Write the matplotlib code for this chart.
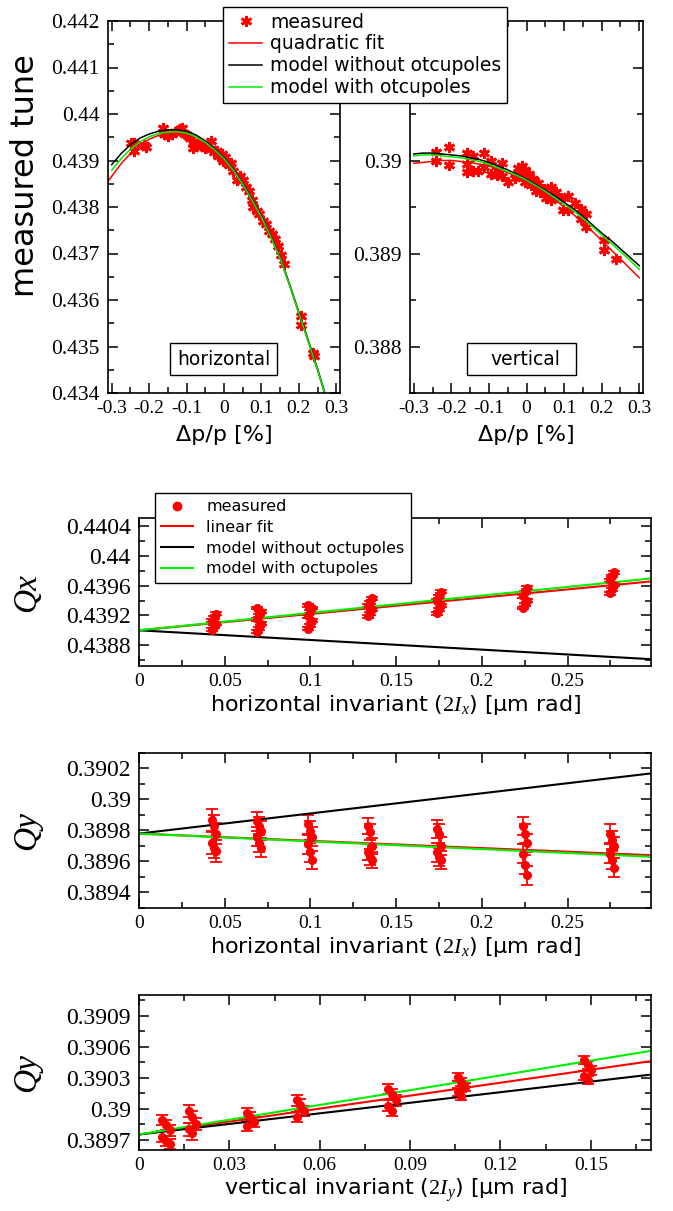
import matplotlib
matplotlib.use('Agg')
import matplotlib.pyplot as plt
from matplotlib.ticker import MultipleLocator, FormatStrFormatter, FuncFormatter
from matplotlib.patches import Rectangle
from matplotlib.lines import Line2D

plt.rcParams['font.family'] = 'Liberation Serif'
plt.rcParams['axes.unicode_minus'] = False
plt.rcParams['mathtext.fontset'] = 'custom'
plt.rcParams['mathtext.it'] = 'Liberation Serif:italic'
plt.rcParams['mathtext.rm'] = 'Liberation Serif'

# ---- top: tune vs momentum offset ----
hor_dp = [-0.248, -0.241, -0.241, -0.213, -0.209, -0.163, -0.160, -0.157, -0.150, -0.139,
          -0.132, -0.117, -0.112, -0.104, -0.099, -0.090, -0.082, -0.082, -0.076, -0.068,
          -0.059, -0.052, -0.044, -0.035, -0.035, -0.028, -0.019, -0.015, -0.006, -0.002,
          0.003, 0.009, 0.014, 0.019, 0.025, 0.034, 0.043, 0.050, 0.060, 0.066,
          0.074, 0.078, 0.087, 0.094, 0.104, 0.112, 0.121, 0.129, 0.137, 0.143,
          0.152, 0.160, 0.205, 0.207, 0.237, 0.240]
hor_q = [0.43937, 0.43938, 0.43920, 0.43933, 0.43929, 0.43970, 0.43958, 0.43956, 0.43953, 0.43957,
         0.43962, 0.43967, 0.43969, 0.43958, 0.43955, 0.43948, 0.43938, 0.43926, 0.43932, 0.43940,
         0.43931, 0.43926, 0.43935, 0.43941, 0.43925, 0.43919, 0.43920, 0.43909, 0.43914, 0.43899,
         0.43908, 0.43896, 0.43891, 0.43895, 0.43877, 0.43859, 0.43866, 0.43857, 0.43842, 0.43835,
         0.43816, 0.43799, 0.43792, 0.43784, 0.43770, 0.43763, 0.43749, 0.43742, 0.43731, 0.43716,
         0.43697, 0.43677, 0.43565, 0.43547, 0.43487, 0.43480]

ver_dp = [-0.240, -0.240, -0.207, -0.207, -0.159, -0.159, -0.159, -0.143, -0.143, -0.128,
          -0.112, -0.112, -0.094, -0.094, -0.079, -0.079, -0.064, -0.064, -0.049, -0.031,
          -0.022, -0.020, -0.013, -0.010, -0.005, -0.004, 0.000, 0.006, 0.011, 0.017,
          0.024, 0.031, 0.036, 0.047, 0.052, 0.064, 0.064, 0.079, 0.093, 0.097,
          0.110, 0.110, 0.128, 0.144, 0.144, 0.159, 0.159, 0.205, 0.205, 0.238]
ver_q = [0.39009, 0.38999, 0.39015, 0.38995, 0.39008, 0.38996, 0.38988, 0.39005, 0.38989, 0.38989,
         0.39008, 0.38993, 0.38999, 0.38986, 0.38990, 0.38984, 0.38997, 0.38983, 0.38977, 0.38981,
         0.38992, 0.38985, 0.38994, 0.38988, 0.38990, 0.38977, 0.38982, 0.38985, 0.38974, 0.38980,
         0.38967, 0.38976, 0.38966, 0.38969, 0.38960, 0.38971, 0.38957, 0.38966, 0.38960, 0.38947,
         0.38962, 0.38947, 0.38954, 0.38948, 0.38937, 0.38942, 0.38929, 0.38915, 0.38904, 0.38894]

# curves read every 0.025 in dp/p
curve_dp = [-0.3, -0.275, -0.25, -0.225, -0.2, -0.175, -0.15, -0.125, -0.1, -0.075, -0.05,
            -0.025, 0.0, 0.025, 0.05, 0.075, 0.1, 0.125, 0.15, 0.175, 0.2, 0.225, 0.25,
            0.275, 0.3]
fit_dp = [-0.325] + curve_dp
hor_fit = [0.43840, 0.43866, 0.43893, 0.43915, 0.43933, 0.43946, 0.43954, 0.43958, 0.43959,
           0.43957, 0.43950, 0.43938, 0.43922, 0.43903, 0.43878, 0.43848, 0.43814, 0.43777,
           0.43735, 0.43689, 0.43632, 0.43571, 0.43511, 0.43449, 0.43383, 0.43314]
hor_noocto = [0.43891, 0.43915, 0.43934, 0.43948, 0.43957, 0.43963, 0.43966, 0.43966, 0.43963,
              0.43955, 0.43942, 0.43925, 0.43906, 0.43881, 0.43851, 0.43817, 0.43780, 0.43738,
              0.43692, 0.43635, 0.43574, 0.43514, 0.43452, 0.43386, 0.43317]
hor_octo = [0.43879, 0.43904, 0.43924, 0.43940, 0.43951, 0.43958, 0.43961, 0.43962, 0.43959,
            0.43951, 0.43939, 0.43923, 0.43904, 0.43879, 0.43849, 0.43815, 0.43778, 0.43736,
            0.43690, 0.43633, 0.43572, 0.43512, 0.43450, 0.43384, 0.43315]
ver_fit = [0.38997, 0.38998, 0.38999, 0.39000, 0.39000, 0.38999, 0.38998, 0.38996, 0.38994,
           0.38991, 0.38987, 0.38982, 0.38977, 0.38971, 0.38965, 0.38958, 0.38950, 0.38942,
           0.38933, 0.38924, 0.38914, 0.38904, 0.38894, 0.38884, 0.38874]
ver_noocto = [0.39007, 0.39008, 0.39008, 0.39007, 0.39006, 0.39005, 0.39003, 0.39001, 0.38998,
              0.38994, 0.38990, 0.38985, 0.38980, 0.38974, 0.38968, 0.38962, 0.38955, 0.38948,
              0.38940, 0.38931, 0.38922, 0.38914, 0.38905, 0.38896, 0.38887]
ver_octo = [0.39005, 0.39006, 0.39006, 0.39005, 0.39004, 0.39003, 0.39001, 0.38999, 0.38996,
            0.38992, 0.38988, 0.38984, 0.38979, 0.38973, 0.38967, 0.38960, 0.38953, 0.38946,
            0.38938, 0.38929, 0.38920, 0.38911, 0.38902, 0.38893, 0.38883]

# ---- amplitude detuning ----
jx_pos = [0.044, 0.070, 0.100, 0.135, 0.175, 0.225, 0.276]
qx_meas = [[0.43901, 0.43905, 0.43909, 0.43913, 0.43917, 0.43922],
           [0.43898, 0.43903, 0.43909, 0.43915, 0.43920, 0.43925, 0.43930],
           [0.43902, 0.43907, 0.43913, 0.43919, 0.43925, 0.43930, 0.43934],
           [0.43919, 0.43923, 0.43928, 0.43933, 0.43938, 0.43943],
           [0.43923, 0.43928, 0.43934, 0.43940, 0.43946, 0.43952],
           [0.43930, 0.43935, 0.43940, 0.43946, 0.43951, 0.43957],
           [0.43950, 0.43955, 0.43961, 0.43967, 0.43973, 0.43978]]
qx_err = [0.00002, 0.00002, 0.00002, 0.00002, 0.00002, 0.00002, 0.00002]
qx_line_x = [0.0, 0.3]
qx_fit = [0.43900, 0.43966]
qx_noocto = [0.43900, 0.43861]
qx_octo = [0.43900, 0.43970]

qyx_meas = [[0.38987, 0.38983, 0.38978, 0.38972, 0.38969, 0.38967],
            [0.38986, 0.38983, 0.38980, 0.38976, 0.38972, 0.38969],
            [0.38984, 0.38980, 0.38976, 0.38971, 0.38966, 0.38961],
            [0.38983, 0.38979, 0.38970, 0.38966, 0.38963, 0.38961],
            [0.38981, 0.38978, 0.38970, 0.38966, 0.38963, 0.38961],
            [0.38983, 0.38978, 0.38972, 0.38965, 0.38958, 0.38951],
            [0.38978, 0.38974, 0.38970, 0.38965, 0.38961, 0.38956]]
qyx_err = [0.00007, 0.00006, 0.00006, 0.00005, 0.00006, 0.00006, 0.00006]
qyx_fit = [0.38978, 0.38964]
qyx_noocto = [0.38978, 0.39017]
qyx_octo = [0.38978, 0.38963]

jy_pos = [0.009, 0.0177, 0.037, 0.0535, 0.084, 0.107, 0.149]
qyy_meas = [[0.38989, 0.38984, 0.38979, 0.38973, 0.38969, 0.38966],
            [0.38998, 0.38992, 0.38985, 0.38980, 0.38976],
            [0.38996, 0.38992, 0.38987, 0.38983],
            [0.39008, 0.39004, 0.38998, 0.38992],
            [0.39019, 0.39014, 0.39008, 0.39003, 0.38998],
            [0.39031, 0.39026, 0.39021, 0.39016, 0.39012],
            [0.39047, 0.39042, 0.39037, 0.39032, 0.39028]]
qyy_err = [0.00005, 0.00006, 0.00005, 0.00005, 0.00005, 0.00004, 0.00004]
qyy_line_x = [0.0, 0.17]
qyy_fit = [0.38975, 0.39046]
qyy_noocto = [0.38975, 0.39033]
qyy_octo = [0.38975, 0.39056]

W, H = 673, 1211
RED = '#ff0000'
GREEN = '#00ee00'


def rect(left, top, right, bottom):
    return [left / W, 1 - bottom / H, (right - left) / W, (bottom - top) / H]


def style_axes(ax, xmaj, xmin, ymaj, ymin, xsize, ysize):
    ax.xaxis.set_major_locator(MultipleLocator(xmaj))
    ax.xaxis.set_minor_locator(MultipleLocator(xmin))
    ax.yaxis.set_major_locator(MultipleLocator(ymaj))
    ax.yaxis.set_minor_locator(MultipleLocator(ymin))
    ax.xaxis.set_major_formatter(FormatStrFormatter('%g'))
    ax.yaxis.set_major_formatter(FormatStrFormatter('%g'))
    ax.tick_params(which='both', direction='in', top=True, right=True, width=1.1)
    ax.tick_params(which='major', length=7)
    ax.tick_params(which='minor', length=4)
    ax.tick_params(axis='x', labelsize=xsize, pad=5)
    ax.tick_params(axis='y', labelsize=ysize, pad=6)
    for s in ax.spines.values():
        s.set_linewidth(1.2)


fig = plt.figure(figsize=(W / 100, H / 100), dpi=100)
sans = 'DejaVu Sans'
star = (6, 2, 0)

# horizontal chromaticity
ax1 = fig.add_axes(rect(108, 21, 340, 393))
m1, = ax1.plot(hor_dp, hor_q, ls='none', marker=star, ms=8, mew=2, color=RED)
l1, = ax1.plot(fit_dp, hor_fit, color=RED, lw=1.1)
l2, = ax1.plot(curve_dp, hor_noocto, color='black', lw=1.1)
l3, = ax1.plot(curve_dp, hor_octo, color=GREEN, lw=1.1)
ax1.set_xlim(-0.31, 0.31)
ax1.set_ylim(0.434, 0.442)
style_axes(ax1, 0.1, 0.05, 0.001, 0.0005, 14, 15.5)
ax1.set_ylabel('measured tune', family=sans, fontsize=23)
ax1.yaxis.set_label_coords(-0.29, 0.585)
ax1.set_xlabel('Δp/p [%]', family=sans, fontsize=16, labelpad=6)
ax1.add_patch(Rectangle((0.267, 0.048), 0.461, 0.086, transform=ax1.transAxes,
                        fill=False, ec='black', lw=1))
ax1.text(0.4975, 0.091, 'horizontal', transform=ax1.transAxes, family=sans,
         fontsize=13.5, ha='center', va='center')

# vertical chromaticity
ax2 = fig.add_axes(rect(410, 21, 643, 393))
ax2.plot(ver_dp, ver_q, ls='none', marker=star, ms=8, mew=2, color=RED)
ax2.plot(curve_dp, ver_fit, color=RED, lw=1.1)
ax2.plot(curve_dp, ver_noocto, color='black', lw=1.1)
ax2.plot(curve_dp, ver_octo, color=GREEN, lw=1.1)
ax2.set_xlim(-0.31, 0.31)
ax2.set_ylim(0.3875, 0.3915)
style_axes(ax2, 0.1, 0.05, 0.001, 0.0005, 14, 15.5)
# the 0.391 label sits under the legend
ax2.yaxis.set_major_formatter(FuncFormatter(lambda v, p: '' if v > 0.3905 else '%g' % v))
ax2.set_xlabel('Δp/p [%]', family=sans, fontsize=16, labelpad=6)
ax2.add_patch(Rectangle((0.246, 0.048), 0.465, 0.086, transform=ax2.transAxes,
                        fill=False, ec='black', lw=1))
ax2.text(0.495, 0.091, 'vertical', transform=ax2.transAxes, family=sans,
         fontsize=13.5, ha='center', va='center')

fig.legend([m1, l1, l2, l3],
           ['measured', 'quadratic fit', 'model without otcupoles', 'model with otcupoles'],
           loc='upper left', bbox_to_anchor=(223 / W, 1 - 7 / H), borderaxespad=0,
           prop={'family': sans, 'size': 13.5}, numpoints=1, handlelength=1.8,
           handletextpad=0.4, labelspacing=0.15, borderpad=0.3, fancybox=False,
           edgecolor='black', framealpha=1)


def detuning(ax, xpos, meas, err, lx, fit, noocto, octo):
    for i, x in enumerate(xpos):
        ys = meas[i]
        xs = [x + 0.0012 * ((k % 3) - 1) for k in range(len(ys))]
        ax.errorbar(xs, ys, yerr=err[i], fmt='o', ms=5.5, color=RED,
                    ecolor=RED, elinewidth=1.3, capsize=4, capthick=1.3)
    a, = ax.plot(lx, fit, color=RED, lw=1.5)
    b, = ax.plot(lx, noocto, color='black', lw=1.5)
    c, = ax.plot(lx, octo, color=GREEN, lw=1.5)
    return a, b, c


# Qx vs 2Jx
ax3 = fig.add_axes(rect(139, 518, 651, 666))
h3 = detuning(ax3, jx_pos, qx_meas, qx_err, qx_line_x, qx_fit, qx_noocto, qx_octo)
ax3.set_xlim(0, 0.2987)
ax3.set_ylim(0.43852, 0.44051)
style_axes(ax3, 0.05, 0.025, 0.0004, 0.0002, 14, 17)
ax3.set_ylabel('Qx', style='italic', fontsize=24)
ax3.yaxis.set_label_coords(-0.19, 0.5)
ax3.set_xlabel(r'horizontal invariant ($\mathit{2I_x}$) [µm rad]', family=sans,
               fontsize=16, labelpad=2)
dot = Line2D([], [], ls='none', marker='o', ms=6, color=RED)
fig.legend([dot, h3[0], h3[1], h3[2]],
           ['measured', 'linear fit', 'model without octupoles', 'model with octupoles'],
           loc='upper left', bbox_to_anchor=(155 / W, 1 - 493 / H), borderaxespad=0,
           prop={'family': sans, 'size': 11.5}, numpoints=1, handlelength=2.0,
           handletextpad=0.8, labelspacing=0.35, borderpad=0.4, fancybox=False,
           edgecolor='black', framealpha=1)

# Qy vs 2Jx
ax4 = fig.add_axes(rect(139, 753, 651, 908))
detuning(ax4, jx_pos, qyx_meas, qyx_err, qx_line_x, qyx_fit, qyx_noocto, qyx_octo)
ax4.set_xlim(0, 0.2987)
ax4.set_ylim(0.3893, 0.39030)
style_axes(ax4, 0.05, 0.025, 0.0002, 0.0001, 14, 17)
ax4.set_ylabel('Qy', style='italic', fontsize=24)
ax4.yaxis.set_label_coords(-0.19, 0.5)
ax4.set_xlabel(r'horizontal invariant ($\mathit{2I_x}$) [µm rad]', family=sans,
               fontsize=16, labelpad=2)

# Qy vs 2Jy
ax5 = fig.add_axes(rect(139, 995, 651, 1150))
detuning(ax5, jy_pos, qyy_meas, qyy_err, qyy_line_x, qyy_fit, qyy_noocto, qyy_octo)
ax5.set_xlim(0, 0.17)
ax5.set_ylim(0.3896, 0.3911)
style_axes(ax5, 0.03, 0.015, 0.0003, 0.00015, 14, 17)
ax5.set_ylabel('Qy', style='italic', fontsize=24)
ax5.yaxis.set_label_coords(-0.19, 0.5)
ax5.set_xlabel(r'vertical invariant ($\mathit{2I_y}$) [µm rad]', family=sans,
               fontsize=16, labelpad=2)

fig.savefig('out.png', dpi=100)
